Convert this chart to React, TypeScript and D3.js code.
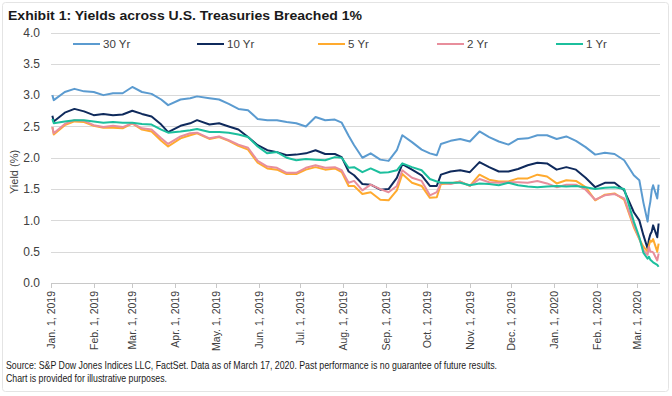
import { useEffect, useRef } from "react"
import * as d3 from "d3"

// trading days (roughly weekly, plus the March 2020 days)
const dates = [
  "2019-01-02", "2019-01-03", "2019-01-11", "2019-01-18", "2019-01-25", "2019-02-01", "2019-02-08", "2019-02-15", "2019-02-22", "2019-03-01",
  "2019-03-08", "2019-03-15", "2019-03-22", "2019-03-27", "2019-04-05", "2019-04-12", "2019-04-17", "2019-04-26", "2019-05-03", "2019-05-10",
  "2019-05-17", "2019-05-24", "2019-05-31", "2019-06-07", "2019-06-14", "2019-06-21", "2019-06-28", "2019-07-05", "2019-07-12", "2019-07-19",
  "2019-07-26", "2019-07-31", "2019-08-05", "2019-08-09", "2019-08-15", "2019-08-21", "2019-08-28", "2019-09-03", "2019-09-09", "2019-09-13",
  "2019-09-20", "2019-09-27", "2019-10-03", "2019-10-08", "2019-10-11", "2019-10-18", "2019-10-25", "2019-11-01", "2019-11-08", "2019-11-15",
  "2019-11-22", "2019-11-29", "2019-12-06", "2019-12-13", "2019-12-20", "2019-12-27", "2020-01-03", "2020-01-10", "2020-01-17", "2020-01-24",
  "2020-01-31", "2020-02-07", "2020-02-14", "2020-02-21", "2020-02-28", "2020-03-03", "2020-03-06", "2020-03-09", "2020-03-10", "2020-03-11",
  "2020-03-12", "2020-03-13", "2020-03-16", "2020-03-17",
]

const yr30 = [
  3.00, 2.92, 3.05, 3.10, 3.06, 3.05, 3.00, 3.03, 3.03, 3.13,
  3.05, 3.02, 2.93, 2.84, 2.93, 2.95, 2.98, 2.95, 2.93, 2.86,
  2.78, 2.76, 2.62, 2.60, 2.60, 2.57, 2.55, 2.50, 2.65, 2.60,
  2.61, 2.56, 2.35, 2.20, 2.00, 2.07, 1.97, 1.95, 2.12, 2.36,
  2.25, 2.13, 2.07, 2.04, 2.22, 2.27, 2.30, 2.26, 2.42, 2.33,
  2.26, 2.21, 2.30, 2.31, 2.36, 2.36, 2.30, 2.34, 2.27, 2.17,
  2.05, 2.08, 2.06, 1.96, 1.72, 1.64, 1.28, 0.98, 1.18, 1.30,
  1.48, 1.56, 1.35, 1.57,
]

const yr10 = [
  2.67, 2.58, 2.72, 2.78, 2.74, 2.68, 2.70, 2.68, 2.69, 2.75,
  2.70, 2.66, 2.53, 2.41, 2.51, 2.55, 2.60, 2.53, 2.55, 2.50,
  2.45, 2.33, 2.20, 2.12, 2.09, 2.04, 2.05, 2.07, 2.12, 2.06,
  2.06, 2.01, 1.78, 1.72, 1.58, 1.57, 1.49, 1.50, 1.68, 1.90,
  1.81, 1.72, 1.55, 1.55, 1.73, 1.78, 1.80, 1.77, 1.93, 1.85,
  1.78, 1.78, 1.82, 1.88, 1.92, 1.91, 1.81, 1.85, 1.81, 1.68,
  1.53, 1.60, 1.60, 1.48, 1.13, 1.00, 0.76, 0.55, 0.70, 0.78,
  0.82, 0.92, 0.73, 0.95,
]

const yr5 = [
  2.49, 2.37, 2.52, 2.58, 2.57, 2.51, 2.48, 2.48, 2.47, 2.55,
  2.45, 2.42, 2.27, 2.18, 2.31, 2.36, 2.39, 2.30, 2.33, 2.27,
  2.19, 2.13, 1.92, 1.83, 1.81, 1.74, 1.74, 1.81, 1.85, 1.81,
  1.83, 1.77, 1.55, 1.55, 1.42, 1.45, 1.33, 1.32, 1.48, 1.74,
  1.60, 1.55, 1.36, 1.37, 1.58, 1.59, 1.62, 1.55, 1.73, 1.65,
  1.62, 1.62, 1.67, 1.67, 1.73, 1.70, 1.59, 1.64, 1.63, 1.53,
  1.32, 1.41, 1.43, 1.33, 0.89, 0.70, 0.58, 0.50, 0.60, 0.68,
  0.66, 0.70, 0.50, 0.63,
]

const yr2 = [
  2.49, 2.39, 2.54, 2.60, 2.59, 2.52, 2.49, 2.51, 2.49, 2.55,
  2.47, 2.45, 2.31, 2.22, 2.34, 2.39, 2.40, 2.31, 2.34, 2.28,
  2.21, 2.16, 1.95, 1.86, 1.84, 1.76, 1.76, 1.84, 1.88, 1.84,
  1.85, 1.80, 1.60, 1.63, 1.48, 1.57, 1.50, 1.45, 1.55, 1.80,
  1.68, 1.63, 1.40, 1.45, 1.60, 1.58, 1.62, 1.55, 1.66, 1.61,
  1.60, 1.61, 1.61, 1.60, 1.63, 1.59, 1.53, 1.57, 1.57, 1.49,
  1.33, 1.40, 1.42, 1.35, 0.92, 0.71, 0.52, 0.45, 0.58, 0.50,
  0.50, 0.49, 0.36, 0.47,
]

const yr1 = [
  2.62, 2.55, 2.58, 2.60, 2.60, 2.58, 2.56, 2.57, 2.56, 2.56,
  2.54, 2.53, 2.45, 2.40, 2.42, 2.44, 2.46, 2.41, 2.41, 2.40,
  2.37, 2.33, 2.18, 2.07, 2.09, 2.00, 1.96, 1.98, 1.97, 1.96,
  2.01, 2.00, 1.84, 1.85, 1.77, 1.83, 1.76, 1.77, 1.80, 1.91,
  1.85, 1.80, 1.66, 1.62, 1.60, 1.60, 1.60, 1.56, 1.59, 1.58,
  1.56, 1.60, 1.56, 1.54, 1.53, 1.54, 1.55, 1.54, 1.55, 1.53,
  1.50, 1.52, 1.53, 1.50, 0.98, 0.73, 0.48, 0.39, 0.42, 0.37,
  0.35, 0.33, 0.29, 0.26,
]

const seriesNames = ["30 Yr", "10 Yr", "5 Yr", "2 Yr", "1 Yr"]
const seriesValues = [yr30, yr10, yr5, yr2, yr1]
const seriesColors = ["#5b9bd0", "#0f2a5c", "#ffaa2e", "#e88e9c", "#1cbf9d"]

const tickDates = [
  "2019-01-01", "2019-02-01", "2019-03-01", "2019-04-01", "2019-05-01", "2019-06-01", "2019-07-01", "2019-08-01",
  "2019-09-01", "2019-10-01", "2019-11-01", "2019-12-01", "2020-01-01", "2020-02-01", "2020-03-01",
]
const tickLabels = [
  "Jan. 1, 2019", "Feb. 1, 2019", "Mar. 1, 2019", "Apr. 1, 2019", "May. 1, 2019", "Jun. 1, 2019", "Jul. 1, 2019", "Aug. 1, 2019",
  "Sep. 1, 2019", "Oct. 1, 2019", "Nov. 1, 2019", "Dec. 1, 2019", "Jan. 1, 2020", "Feb. 1, 2020", "Mar. 1, 2020",
]
const yTicks = [0, 0.5, 1, 1.5, 2, 2.5, 3, 3.5, 4]

const title = "Exhibit 1: Yields across U.S. Treasuries Breached 1%"
const source1 = "Source: S&P Dow Jones Indices LLC, FactSet. Data as of March 17, 2020. Past performance is no guarantee of future results."
const source2 = "Chart is provided for illustrative purposes."

const W = 672
const H = 396
const FONT = "'Liberation Sans', Arial, sans-serif"
const TEXT = "#404040"
const legendX = [73, 197, 318, 437, 556]

const App = () => {
  const svgRef = useRef(null)

  useEffect(() => {
    const svg = d3.select(svgRef.current)
    svg.selectAll("*").remove()

    const parse = d3.timeParse("%Y-%m-%d")
    const x = d3.scaleTime()
      .domain([parse("2019-01-01"), parse("2020-03-18")])
      .range([51, 660])
    const y = d3.scaleLinear().domain([0, 4]).range([283, 32.5])

    // card
    svg.append("rect")
      .attr("x", 2.5).attr("y", 2.5).attr("width", W - 6).attr("height", H - 7)
      .attr("rx", 3).attr("fill", "#fff").attr("stroke", "#e4e4e4")

    svg.append("text")
      .attr("x", 8).attr("y", 20)
      .attr("font-family", FONT).attr("font-size", 13.5).attr("font-weight", "bold")
      .attr("fill", "#1a1a1a")
      .attr("textLength", 354).attr("lengthAdjust", "spacingAndGlyphs")
      .text(title)

    // gridlines + y labels
    const grid = svg.append("g")
    yTicks.forEach(t => {
      grid.append("line")
        .attr("x1", 51).attr("x2", 660)
        .attr("y1", Math.round(y(t)) + 0.5).attr("y2", Math.round(y(t)) + 0.5)
        .attr("stroke", t === 0 ? "#c8c8c8" : "#d9d9d9").attr("stroke-width", 1)
      grid.append("text")
        .attr("x", 40).attr("y", y(t)).attr("dy", "0.35em")
        .attr("text-anchor", "end")
        .attr("font-family", FONT).attr("font-size", 12).attr("fill", TEXT)
        .text(d3.format(".1f")(t))
    })

    svg.append("text")
      .attr("transform", "translate(18,172) rotate(-90)")
      .attr("text-anchor", "middle")
      .attr("font-family", FONT).attr("font-size", 11).attr("fill", TEXT)
      .text("Yield (%)")

    // x ticks
    const xg = svg.append("g")
    tickDates.forEach((d, i) => {
      const tx = Math.round(x(parse(d))) + 0.5
      xg.append("line")
        .attr("x1", tx).attr("x2", tx).attr("y1", 283).attr("y2", 288)
        .attr("stroke", "#c8c8c8")
      xg.append("text")
        .attr("transform", `translate(${tx},291) rotate(-90)`)
        .attr("dy", "0.35em").attr("text-anchor", "end")
        .attr("font-family", FONT).attr("font-size", 10.5).attr("fill", TEXT)
        .text(tickLabels[i])
    })

    // series
    const line = d3.line()
      .x(d => x(d.date))
      .y(d => y(d.value))
    seriesValues.forEach((vals, i) => {
      const pts = vals.map((v, j) => ({ date: parse(dates[j]), value: v }))
      svg.append("path")
        .datum(pts)
        .attr("fill", "none")
        .attr("stroke", seriesColors[i])
        .attr("stroke-width", 2)
        .attr("stroke-linejoin", "round")
        .attr("d", line)
    })

    // legend
    const lg = svg.append("g")
    seriesNames.forEach((name, i) => {
      lg.append("line")
        .attr("x1", legendX[i]).attr("x2", legendX[i] + 27)
        .attr("y1", 44).attr("y2", 44)
        .attr("stroke", seriesColors[i]).attr("stroke-width", 2)
      lg.append("text")
        .attr("x", legendX[i] + 30).attr("y", 44).attr("dy", "0.35em")
        .attr("font-family", FONT).attr("font-size", 11.5).attr("fill", TEXT)
        .text(name)
    })

    // footer
    svg.append("text")
      .attr("x", 6).attr("y", 369)
      .attr("font-family", FONT).attr("font-size", 11).attr("fill", "#1a1a1a")
      .attr("textLength", 491).attr("lengthAdjust", "spacingAndGlyphs")
      .text(source1)
    svg.append("text")
      .attr("x", 6).attr("y", 382)
      .attr("font-family", FONT).attr("font-size", 11).attr("fill", "#1a1a1a")
      .attr("textLength", 161).attr("lengthAdjust", "spacingAndGlyphs")
      .text(source2)
  }, [])

  return (
    <svg
      ref={svgRef}
      width={W}
      height={H}
      style={{ position: "absolute", left: 0, top: 0, background: "#fff" }}
    />
  )
}

export default App
